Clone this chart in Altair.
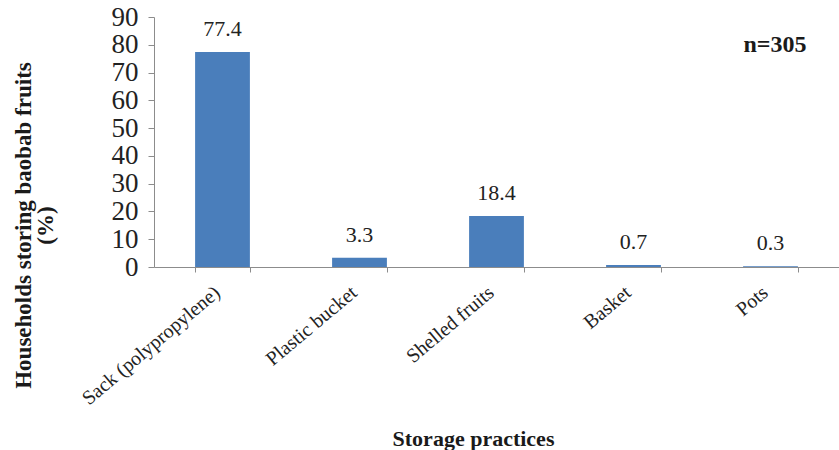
import altair as alt
import pandas as pd

categories = ["Sack (polypropylene)", "Plastic bucket", "Shelled fruits", "Basket", "Pots"]
percent = [77.4, 3.3, 18.4, 0.7, 0.3]
y_ticks = [0, 10, 20, 30, 40, 50, 60, 70, 80, 90]

df = pd.DataFrame({"practice": categories, "pct": percent})
df["label"] = df["pct"].map(lambda v: f"{v:.1f}")

FONT = "Liberation Serif"
AXIS_GREY = "#8c8c8c"
BAR_BLUE = "#4a7ebb"

x_enc = alt.X(
    "practice:N",
    sort=categories,
    scale=alt.Scale(paddingInner=0.6, paddingOuter=0.3),
    axis=alt.Axis(
        title="Storage practices",
        titleFont=FONT,
        titleFontSize=22,
        titleFontWeight="bold",
        titleColor="#1a1a1a",
        titleX=319,
        titleY=178,
        titleBaseline="alphabetic",
        labelAngle=-40,
        labelFont=FONT,
        labelFontSize=20,
        labelColor="#222222",
        labelPadding=10,
        labelOffset=-12,
        tickBand="extent",
        tickSize=5,
        tickColor=AXIS_GREY,
        domainColor=AXIS_GREY,
        labelOverlap=False,
    ),
)

y_enc = alt.Y(
    "pct:Q",
    scale=alt.Scale(domain=[0, 90], nice=False),
    axis=alt.Axis(
        title=["Households storing baobab fruits", "(%)"],
        titleFont=FONT,
        titleFontSize=23,
        titleFontWeight="bold",
        titleColor="#1a1a1a",
        titleLineHeight=22,
        titleAngle=-90,
        titleAlign="center",
        titleBaseline="top",
        titleX=-142,
        titleY=208,
        values=y_ticks,
        labelFont=FONT,
        labelFontSize=27,
        labelColor="#222222",
        labelPadding=10,
        labelOverlap=False,
        labelFlush=False,
        labelBound=False,
        tickSize=6,
        tickColor=AXIS_GREY,
        domainColor=AXIS_GREY,
        grid=False,
    ),
)

# bars and their value labels share one set of encodings (and axes)
base = alt.Chart(df).encode(x=x_enc, y=y_enc)

bars = base.mark_bar(color=BAR_BLUE)

values = base.mark_text(
    font=FONT, fontSize=22, color="#222222", baseline="bottom", dy=-11
).encode(text="label:N")

note = alt.Chart(pd.DataFrame({"t": ["n=305"]})).mark_text(
    font=FONT, fontSize=24, fontWeight="bold", color="#1a1a1a", align="center", baseline="middle"
).encode(x=alt.value(621), y=alt.value(28), text="t:N")

chart = (
    alt.layer(bars, values, note)
    .properties(
        width=685,
        height=250,
        padding={"left": 154, "top": 17, "right": 0, "bottom": 183},
        autosize=alt.AutoSizeParams(type="none"),
        background="white",
    )
    .configure_view(stroke=None)
    .configure_axisY(labelOverlap=False)
)

chart.save("out.html", embed_options={"renderer": "svg", "actions": False})
